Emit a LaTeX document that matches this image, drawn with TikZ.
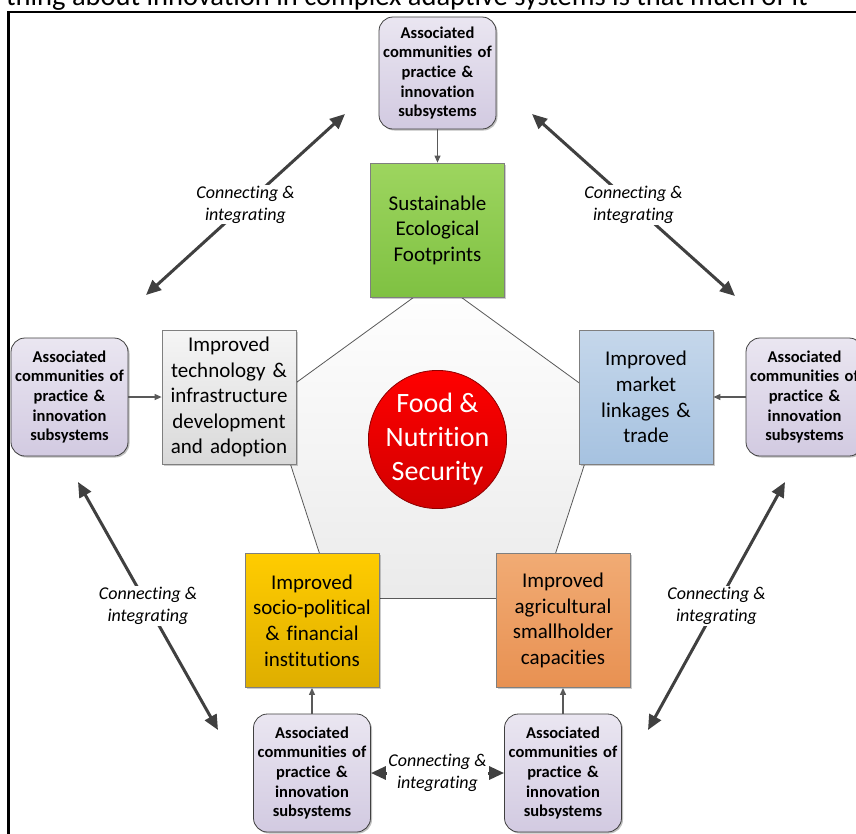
\documentclass[tikz,border=0pt]{standalone}
\usepackage{fontspec}
\setmainfont{Carlito}[Ligatures=NoCommon]
\usetikzlibrary{arrows.meta,shadows}

\definecolor{assocTop}{HTML}{EAE6F1}
\definecolor{assocBot}{HTML}{D2CAE1}
\definecolor{edgeDark}{HTML}{404040}
\definecolor{edgeMid}{HTML}{7F7F7F}
\definecolor{arrowGray}{HTML}{404040}
\definecolor{ecoTop}{HTML}{9DD55F}
\definecolor{ecoBot}{HTML}{7FC142}
\definecolor{techTop}{HTML}{F5F5F5}
\definecolor{techBot}{HTML}{D9D9D9}
\definecolor{mktTop}{HTML}{C5D7EB}
\definecolor{mktBot}{HTML}{A6C2E0}
\definecolor{socTop}{HTML}{FFCC00}
\definecolor{socBot}{HTML}{DEAE00}
\definecolor{agrTop}{HTML}{F1AB74}
\definecolor{agrBot}{HTML}{E89152}

\tikzset{
  assoc/.style={draw=edgeDark, line width=0.8pt, rounded corners=14pt,
    top color=assocTop, bottom color=assocBot,
    minimum width=117pt, minimum height=118pt, text width=115pt,
    inner sep=0pt, align=center,
    font=\bfseries\fontsize{16.5}{19.6}\selectfont,
    drop shadow={shadow xshift=1.5pt, shadow yshift=-1.5pt, opacity=.25, fill=black}},
  goalbox/.style={draw=edgeMid, line width=0.8pt,
    minimum width=134pt, minimum height=134pt, text width=130pt,
    inner sep=0pt, align=center,
    font=\fontsize{21}{25.6}\selectfont,
    drop shadow={shadow xshift=1.5pt, shadow yshift=-1.5pt, opacity=.2, fill=black}},
  conn/.style={fill=white, inner sep=1pt, align=center,
    font=\itshape\fontsize{18}{22}\selectfont},
  linkarrow/.style={draw=arrowGray, line width=3pt,
    {Triangle[length=15pt,width=13pt]}-{Triangle[length=15pt,width=13pt]}},
  feedarrow/.style={draw=black!65, line width=1.1pt,
    -{Triangle[length=7pt,width=6pt]}}
}

\begin{document}
\begin{tikzpicture}[x=1pt,y=-1pt]
\useasboundingbox (0,0) rectangle (856,833);
\fill[white] (0,0) rectangle (856,833);
\clip (0,0) rectangle (856,833);

% running text of the page above the figure frame
\node[anchor=base west, inner sep=0pt, font=\fontsize{28.5}{34}\selectfont] (runtext) at (6,5)
  {thing about innovation in complex adaptive systems is that much of it};

% figure frame
\draw[line width=2.5pt] (8.5,12) rectangle (900,900);

% central pentagon
\coordinate (p1) at (437.5,280);
\coordinate (p2) at (604.9,401.6);
\coordinate (p3) at (540.9,598.4);
\coordinate (p4) at (334.1,598.4);
\coordinate (p5) at (270.1,401.6);
\path[draw=black!65, line width=0.8pt, top color=white, bottom color=black!8]
  (p1) -- (p2) -- (p3) -- (p4) -- (p5) -- cycle;

% core goal
\node[circle, minimum size=133pt, inner sep=0pt, draw=red!55!black, line width=0.8pt,
  top color=red, bottom color=red!82!black, text=white, align=center,
  font=\fontsize{28}{34}\selectfont] (fns) at (437.5,439.5)
  {Food \&\\Nutrition\\Security};

% goal boxes
\node[goalbox, top color=ecoTop, bottom color=ecoBot]
  (eco) at (437.5,230) {Sustainable\\Ecological\\Footprints};
\node[goalbox, top color=techTop, bottom color=techBot]
  (tech) at (229,397) {Improved\\technology \&\\infrastructure\\development\\and adoption};
\node[goalbox, top color=mktTop, bottom color=mktBot]
  (market) at (646,397) {Improved\\market\\linkages \&\\trade};
\node[goalbox, top color=socTop, bottom color=socBot]
  (socio) at (312,620.5) {Improved\\socio-political\\\& financial\\institutions};
\node[goalbox, top color=agrTop, bottom color=agrBot]
  (agri) at (563,620.5) {Improved\\agricultural\\smallholder\\capacities};

% communities of practice
\node[assoc, minimum height=112pt] (aTop) at (437.5,73)
  {Associated\\communities of\\practice \&\\innovation\\subsystems};
\node[assoc] (aLeft) at (69.5,397)
  {Associated\\communities of\\practice \&\\innovation\\subsystems};
\node[assoc] (aRight) at (804.5,397)
  {Associated\\communities of\\practice \&\\innovation\\subsystems};
\node[assoc] (aBotL) at (312,773)
  {Associated\\communities of\\practice \&\\innovation\\subsystems};
\node[assoc] (aBotR) at (563,773)
  {Associated\\communities of\\practice \&\\innovation\\subsystems};

% feeding arrows
\draw[feedarrow] (aTop) -- (eco);
\draw[feedarrow] (aLeft) -- (tech);
\draw[feedarrow] (aRight) -- (market);
\draw[feedarrow] (aBotL) -- (socio);
\draw[feedarrow] (aBotR) -- (agri);

% connecting arrows between communities
\coordinate (tlA) at (146,295);
\coordinate (tlB) at (345,114);
\coordinate (trA) at (532,114);
\coordinate (trB) at (735,296);
\coordinate (blA) at (78,482);
\coordinate (blB) at (218,730);
\coordinate (brA) at (785,482);
\coordinate (brB) at (648,730);

\draw[linkarrow] (tlA) -- node[conn] (cTL) {Connecting \&\\integrating} (tlB);
\draw[linkarrow] (trA) -- node[conn] (cTR) {Connecting \&\\integrating} (trB);
\draw[linkarrow] (blA) -- node[conn] (cBL) {Connecting \&\\integrating} (blB);
\draw[linkarrow] (brA) -- node[conn] (cBR) {Connecting \&\\integrating} (brB);
\draw[linkarrow] (aBotL) -- node[conn] (cB) {Connecting \&\\integrating} (aBotR);
\end{tikzpicture}
\end{document}
